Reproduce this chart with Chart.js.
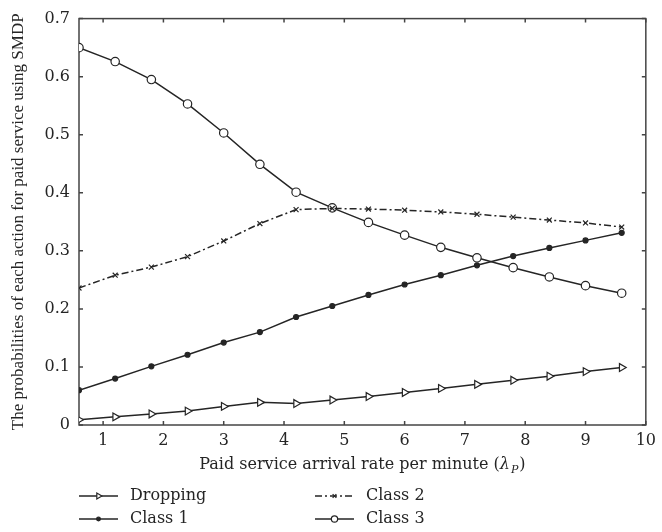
<!DOCTYPE html>
<html>
<head>
<meta charset="utf-8">
<script src="https://cdn.jsdelivr.net/npm/chart.js@4.4.0/dist/chart.umd.min.js"></script>
<style>
  html, body { margin: 0; padding: 0; background: #fff; }
</style>
</head>
<body>
<canvas id="chart" width="662" height="532"></canvas>
<script>
// --- Data ---
const rates    = [0.6, 1.2, 1.8, 2.4, 3.0, 3.6, 4.2, 4.8, 5.4, 6.0, 6.6, 7.2, 7.8, 8.4, 9.0, 9.6];
const dropping = [0.009, 0.014, 0.019, 0.024, 0.032, 0.039, 0.037, 0.043, 0.049, 0.056, 0.063, 0.070, 0.077, 0.084, 0.092, 0.099];
const class1   = [0.060, 0.080, 0.101, 0.121, 0.142, 0.160, 0.186, 0.205, 0.224, 0.242, 0.258, 0.275, 0.291, 0.305, 0.318, 0.331];
const class2   = [0.236, 0.258, 0.272, 0.290, 0.317, 0.347, 0.371, 0.373, 0.372, 0.370, 0.367, 0.363, 0.358, 0.353, 0.348, 0.341];
const class3   = [0.650, 0.626, 0.595, 0.553, 0.503, 0.449, 0.401, 0.374, 0.349, 0.327, 0.306, 0.288, 0.271, 0.255, 0.240, 0.227];

const xTicks = [1, 2, 3, 4, 5, 6, 7, 8, 9, 10];
const yTicks = [0, 0.1, 0.2, 0.3, 0.4, 0.5, 0.6, 0.7];
const yTickLabels = ['0', '0.1', '0.2', '0.3', '0.4', '0.5', '0.6', '0.7'];

const INK = '#252525';
const TICK_FONT = 'DejaVu Serif';

const pts = (ys) => rates.map((x, i) => ({ x, y: ys[i] }));

// frame + inward tick marks (like the original plot)
const framePlugin = {
  id: 'frame',
  beforeDatasetsDraw(chart) {
    const { ctx, chartArea: a, scales } = chart;
    ctx.save();
    ctx.strokeStyle = '#444';
    ctx.lineWidth = 1.5;
    ctx.strokeRect(a.left, a.top, a.right - a.left, a.bottom - a.top);
    ctx.beginPath();
    xTicks.forEach(v => {
      const px = scales.x.getPixelForValue(v);
      ctx.moveTo(px, a.bottom); ctx.lineTo(px, a.bottom - 4);
      ctx.moveTo(px, a.top);    ctx.lineTo(px, a.top + 4);
    });
    yTicks.forEach(v => {
      const py = scales.y.getPixelForValue(v);
      ctx.moveTo(a.left, py);  ctx.lineTo(a.left + 4, py);
      ctx.moveTo(a.right, py); ctx.lineTo(a.right - 4, py);
    });
    ctx.stroke();
    ctx.restore();
  }
};

// x title with italic lambda and subscript p
const xTitlePlugin = {
  id: 'xTitle',
  afterDraw(chart) {
    const { ctx, chartArea: a } = chart;
    const cx = (a.left + a.right) / 2, y = 465;
    const main = 'Paid service arrival rate per minute (';
    const fMain = '16px DejaVu Serif', fIt = 'italic 16px DejaVu Serif', fSub = 'italic 11px DejaVu Serif';
    ctx.save();
    ctx.fillStyle = INK;
    ctx.textBaseline = 'middle';
    ctx.font = fMain; const w1 = ctx.measureText(main).width, w4 = ctx.measureText(')').width;
    ctx.font = fIt;   const w2 = ctx.measureText('λ').width;
    ctx.font = fSub;  const w3 = ctx.measureText('P').width;
    let x = cx - (w1 + w2 + w3 + 2 + w4) / 2;
    ctx.font = fMain; ctx.fillText(main, x, y); x += w1;
    ctx.font = fIt;   ctx.fillText('λ', x, y); x += w2 + 1;
    ctx.font = fSub;  ctx.fillText('P', x, y + 5); x += w3 + 1;
    ctx.font = fMain; ctx.fillText(')', x, y);
    ctx.restore();
  }
};

// two-column legend below the axis title
const legendPlugin = {
  id: 'gridLegend',
  afterDraw(chart) {
    const { ctx } = chart;
    const slots = [[79, 496], [79, 519], [315, 496], [315, 519]];
    ctx.save();
    chart.data.datasets.forEach((ds, i) => {
      const [x0, y] = slots[i];
      const x1 = x0 + 39;
      ctx.strokeStyle = ds.borderColor;
      ctx.lineWidth = ds.borderWidth;
      ctx.setLineDash(ds.borderDash || []);
      ctx.beginPath(); ctx.moveTo(x0, y); ctx.lineTo(x1, y); ctx.stroke();
      ctx.setLineDash([]);
      ctx.fillStyle = ds.pointBackgroundColor;
      ctx.strokeStyle = ds.pointBorderColor;
      ctx.lineWidth = ds.pointBorderWidth;
      Chart.helpers.drawPoint(ctx, {
        pointStyle: ds.pointStyle, rotation: ds.pointRotation || 0,
        radius: ds.pointRadius * 0.75, borderWidth: ds.pointBorderWidth
      }, (x0 + x1) / 2, y);
      ctx.fillStyle = INK;
      ctx.font = '16px DejaVu Serif';
      ctx.textBaseline = 'middle';
      ctx.fillText(ds.label, x1 + 12, y);
    });
    ctx.restore();
  }
};

const common = { borderColor: INK, borderWidth: 1.5, tension: 0, pointBorderColor: INK, pointBorderWidth: 1.2 };

new Chart(document.getElementById('chart'), {
  type: 'line',
  data: {
    datasets: [
      { ...common, label: 'Dropping', data: pts(dropping), pointStyle: 'triangle', pointRotation: 90, pointRadius: 4.5, pointBackgroundColor: '#fff' },
      { ...common, label: 'Class 1',  data: pts(class1),   pointStyle: 'circle',   pointRadius: 2.5, pointBackgroundColor: INK },
      { ...common, label: 'Class 2',  data: pts(class2),   pointStyle: 'crossRot', pointRadius: 3.5, pointBackgroundColor: INK, borderDash: [7, 3, 2, 3] },
      { ...common, label: 'Class 3',  data: pts(class3),   pointStyle: 'circle',   pointRadius: 4.2, pointBackgroundColor: '#fff' }
    ]
  },
  options: {
    responsive: false,
    animation: false,
    layout: { padding: { left: 0, top: 15, right: 10, bottom: 0 } },
    plugins: { legend: { display: false }, tooltip: { enabled: false } },
    scales: {
      x: {
        type: 'linear', min: 0.6, max: 10,
        grid: { display: false, drawTicks: false },
        border: { display: false },
        afterBuildTicks: s => { s.ticks = xTicks.map(v => ({ value: v })); },
        afterFit: s => { s.height = 107; },
        ticks: { padding: 6, color: INK, font: { family: TICK_FONT, size: 16 }, maxRotation: 0, callback: v => String(v) }
      },
      y: {
        type: 'linear', min: 0, max: 0.7,
        grid: { display: false, drawTicks: false },
        border: { display: false },
        afterBuildTicks: s => { s.ticks = yTicks.map(v => ({ value: v })); },
        afterFit: s => { s.width = 79; },
        ticks: { padding: 9, color: INK, font: { family: TICK_FONT, size: 16 }, callback: (v, i) => yTickLabels[i] },
        title: {
          display: true, text: 'The probabilities of each action for paid service using SMDP',
          color: INK, font: { family: 'Liberation Serif', size: 17 }, padding: { top: 8, bottom: 0 }
        }
      }
    }
  },
  plugins: [framePlugin, xTitlePlugin, legendPlugin]
});
</script>
</body>
</html>
